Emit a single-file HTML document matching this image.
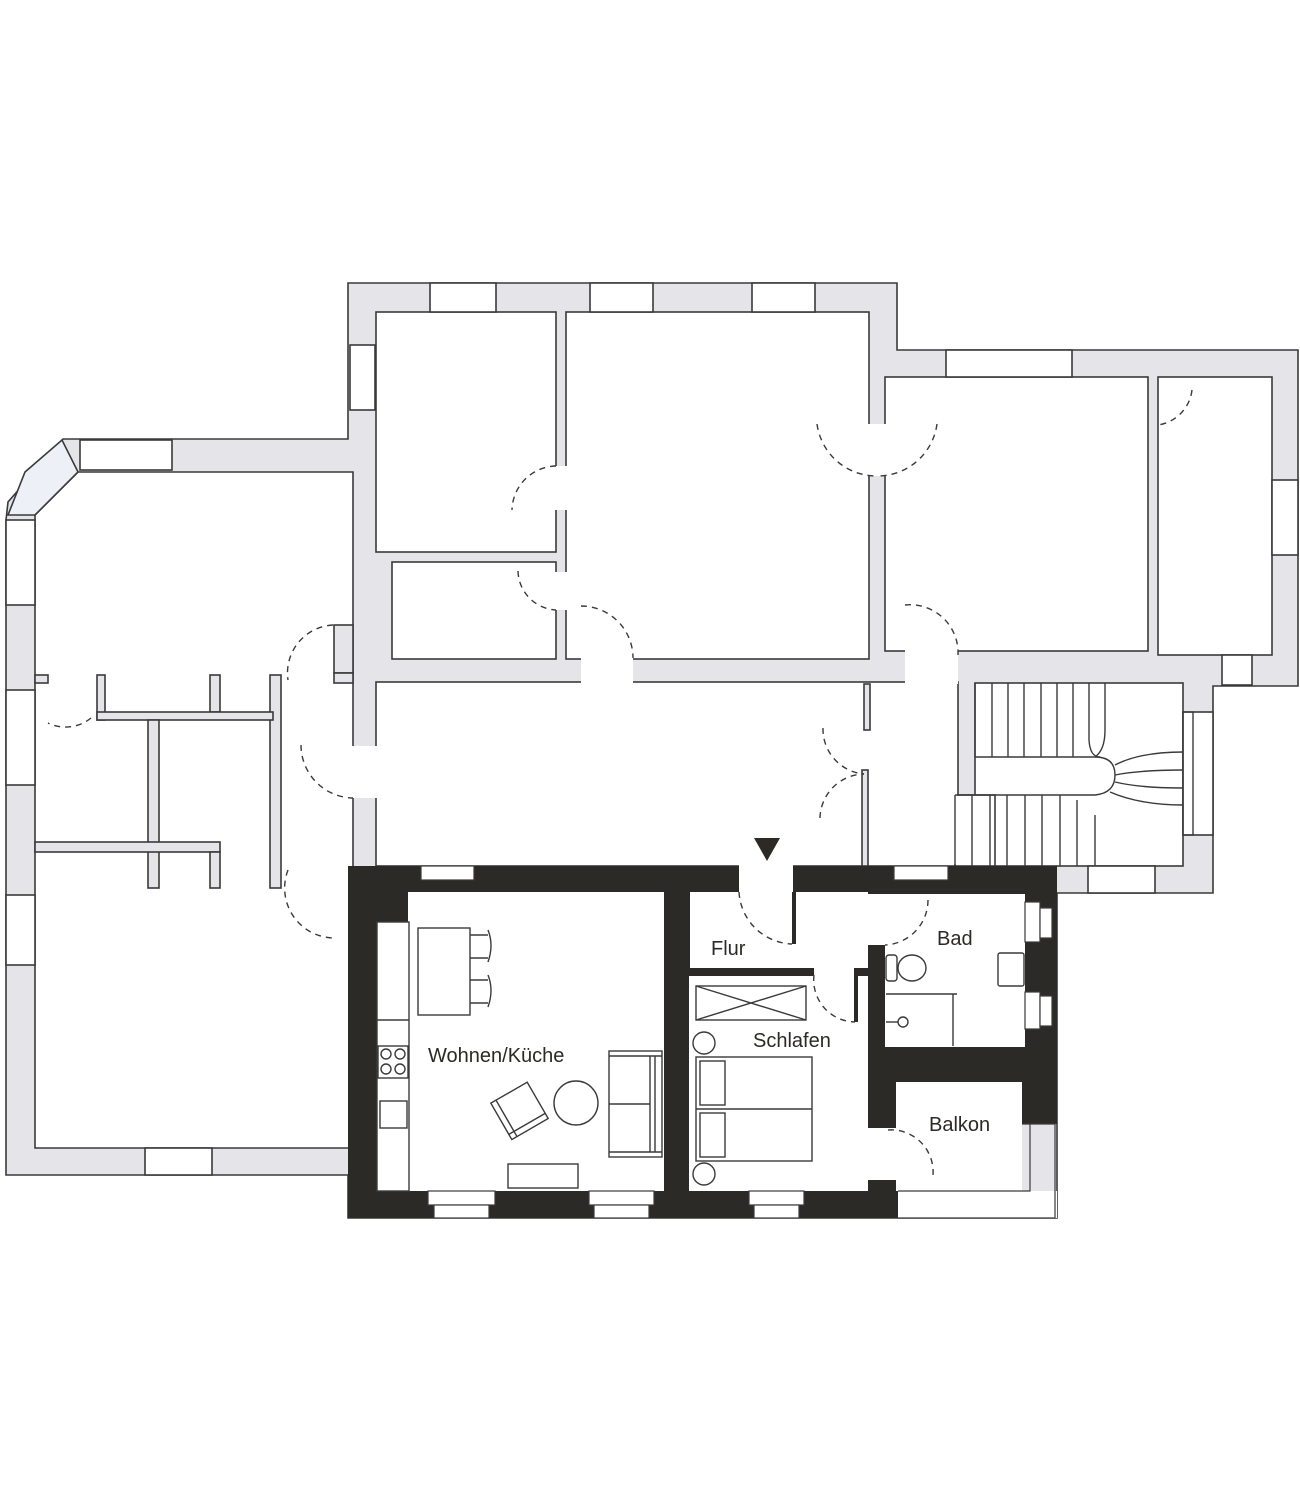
<!DOCTYPE html>
<html><head><meta charset="utf-8"><style>
html,body{margin:0;padding:0;background:#fff;}
svg{display:block;}
text{font-family:"Liberation Sans",sans-serif;font-size:20px;fill:#2b2a27;}
</style></head><body>
<svg width="1300" height="1500" viewBox="0 0 1300 1500" xmlns="http://www.w3.org/2000/svg">
<g stroke="#3a3a3a" stroke-width="1.6" fill="#e5e4e8">
<path d="M348,283 H897 V350 H1298 V686 H1213 V893 H1057 V1218 H348 V1175 H6 V520 L8,502 L63,439 H348 Z"/>
</g>
<g stroke="#3a3a3a" stroke-width="1.6" fill="#fff">
<path d="M78,472 H353 V1148 H35 V515 Z"/>
<rect x="376" y="312" width="180" height="240"/>
<rect x="392" y="562" width="164" height="97"/>
<rect x="566" y="312" width="303" height="347"/>
<rect x="885" y="377" width="263" height="274"/>
<rect x="1158" y="377" width="114" height="278"/>
<rect x="376" y="682" width="582" height="184"/>
<rect x="975" y="683" width="208" height="183"/>
<rect x="955" y="795" width="40" height="71"/>
<rect x="430" y="283" width="66" height="29"/>
<rect x="590" y="283" width="63" height="29"/>
<rect x="752" y="283" width="63" height="29"/>
<rect x="946" y="350" width="126" height="27"/>
<rect x="350" y="345" width="25" height="65"/>
<rect x="1272" y="480" width="26" height="75"/>
<rect x="1222" y="655" width="30" height="30"/>
<rect x="1183" y="712" width="30" height="123"/>
<rect x="1088" y="866" width="67" height="27"/>
<rect x="80" y="440" width="92" height="30"/>
<rect x="6" y="520" width="29" height="85"/>
<rect x="6" y="690" width="29" height="95"/>
<rect x="6" y="895" width="29" height="70"/>
<rect x="145" y="1148" width="67" height="27"/>
<path d="M25,472 L62,440 L78,472 L35,515 L8,515 Z" fill="#eef0f8"/>
</g>
<g fill="#fff" stroke="none">
<rect x="555" y="466" width="12" height="44"/>
<rect x="555" y="572" width="12" height="38"/>
<rect x="581" y="657" width="52" height="27"/>
<rect x="867" y="424" width="20" height="52"/>
<rect x="905" y="650" width="53" height="34"/>
<rect x="331" y="626" width="21" height="48"/>
<rect x="351" y="746" width="27" height="52"/>
<rect x="282" y="672" width="70" height="475"/>
<rect x="48" y="673" width="49" height="12"/>
<rect x="869" y="684" width="88" height="180"/>
<rect x="957" y="796" width="20" height="69"/>
</g>
<line x1="352.5" y1="938" x2="352.5" y2="1148" stroke="#3a3a3a" stroke-width="1.6"/>
<g stroke="#3a3a3a" stroke-width="1.6" fill="#e5e4e8">
<rect x="97" y="675" width="8" height="45"/>
<rect x="210" y="675" width="10" height="37"/>
<rect x="270" y="675" width="11" height="213"/>
<rect x="97" y="712" width="176" height="8"/>
<rect x="148" y="720" width="11" height="168"/>
<rect x="35" y="842" width="185" height="10"/>
<rect x="210" y="852" width="10" height="36"/>
<rect x="35" y="675" width="13" height="8"/>
<rect x="334" y="625" width="19" height="48"/>
<rect x="334" y="673" width="19" height="10"/>
<rect x="864" y="684" width="6" height="46"/>
<rect x="862" y="770" width="6" height="96"/>
</g>
<g fill="none" stroke="#3a3a3a" stroke-width="1.4" stroke-dasharray="6,5">
<path d="M556,466 A45,45 0 0 0 512,510"/>
<path d="M518,571 A40,40 0 0 0 556,610"/>
<path d="M581,606 A52,52 0 0 1 633,658"/>
<path d="M817,424 A60,60 0 0 0 877,476"/>
<path d="M937,424 A60,60 0 0 1 877,476"/>
<path d="M1192,390 A40,40 0 0 1 1158,425"/>
<path d="M905,605 A48,48 0 0 1 958,655"/>
<path d="M333,625 A48,48 0 0 0 288,680"/>
<path d="M91,718 A40,40 0 0 1 48,723"/>
<path d="M301,745 A53,53 0 0 0 353,798"/>
<path d="M288,870 A50,50 0 0 0 333,938"/>
<path d="M823,728 A45,45 0 0 0 864,774"/>
<path d="M820,818 A45,45 0 0 1 864,774"/>
</g>
<g stroke="#3a3a3a" stroke-width="1.4" fill="none">
<path d="M975,683 V757 M992,683 V757 M1008,683 V757 M1024,683 V757 M1041,683 V757 M1057,683 V757 M1073,683 V757 M1089,683 V740 Q1090,757 1100,757 M1105,683 V730 Q1105,750 1095,757"/>
<path d="M975,757 H1095 Q1115,757 1115,775 Q1115,793 1095,795 H955"/>
<path d="M955,795 V866 M972,795 V866 M990,795 V866 M1007,795 V866 M1025,795 V866 M1042,795 V866 M1060,795 V866 M1077,800 V866 M1095,815 V866"/>
<path d="M1115,765 Q1140,752 1183,752 M1115,775 Q1140,770 1183,770 M1115,782 Q1140,788 1183,788 M1110,792 Q1140,805 1183,805"/>
<rect x="1183" y="712" width="10" height="123"/>
</g>
<path fill="#2b2a27" d="M348,866 H1057 V1124 H1022 V1191 H898 V1218 H348 Z"/>
<g fill="#fff" stroke="none">
<rect x="739" y="850" width="54" height="45"/>
<rect x="408" y="892" width="256" height="299"/>
<rect x="377" y="922" width="31" height="269"/>
<rect x="690" y="892" width="178" height="76"/>
<rect x="689" y="976" width="179" height="215"/>
<rect x="814" y="966" width="40" height="12"/>
<rect x="885" y="894" width="140" height="153"/>
<rect x="866" y="894" width="22" height="51"/>
<rect x="896" y="1082" width="126" height="109"/>
<rect x="866" y="1128" width="32" height="52"/>
<rect x="898" y="1191" width="159" height="27"/>
</g>
<rect x="854" y="968" width="4" height="54" fill="#2b2a27"/>
<g fill="#fff" stroke="#3a3a3a" stroke-width="1.2">
<rect x="421" y="866" width="53" height="14"/>
<rect x="894" y="866" width="54" height="14"/>
<rect x="428" y="1191" width="67" height="14"/>
<rect x="434" y="1205" width="55" height="13"/>
<rect x="589" y="1191" width="65" height="14"/>
<rect x="594" y="1205" width="55" height="13"/>
<rect x="749" y="1191" width="55" height="14"/>
<rect x="754" y="1205" width="45" height="13"/>
<rect x="1025" y="902" width="15" height="40"/>
<rect x="1040" y="908" width="12" height="30"/>
<rect x="1025" y="992" width="15" height="37"/>
<rect x="1040" y="996" width="12" height="30"/>
<path d="M1022,1124 H1055 V1218 H898" fill="none"/>
<path d="M1030,1124 V1191 H898" fill="none"/>
</g>
<path d="M754,838 H780 L767,861 Z" fill="#2b2a27"/>
<rect x="792" y="892" width="4" height="52" fill="#2b2a27"/>
<g fill="none" stroke="#3a3a3a" stroke-width="1.4" stroke-dasharray="6,5">
<path d="M739,892 A55,55 0 0 0 792,944"/>
<path d="M928,900 A45,45 0 0 1 885,945"/>
<path d="M814,975 A42,42 0 0 0 855,1022"/>
<path d="M888,1130 A42,42 0 0 1 933,1175"/>
</g>
<g fill="none" stroke="#3a3a3a" stroke-width="1.4">
<rect x="377" y="922" width="32" height="269"/>
<line x1="377" y1="1020" x2="409" y2="1020"/>
<rect x="378" y="1046" width="30" height="32"/>
<circle cx="386" cy="1054" r="5"/><circle cx="400" cy="1054" r="5"/>
<circle cx="386" cy="1069" r="5"/><circle cx="400" cy="1069" r="5"/>
<rect x="380" y="1101" width="27" height="27"/>
<rect x="418" y="928" width="52" height="87"/>
<path d="M470,935 H488 M470,958 H488 M488,930 Q494,945 488,962"/>
<path d="M470,980 H488 M470,1003 H488 M488,975 Q494,990 488,1007"/>
<g transform="rotate(-30 519 1110)"><rect x="498" y="1090" width="42" height="42"/><path d="M504,1090 V1132 M498,1126 H540"/></g>
<circle cx="576" cy="1103" r="22"/>
<rect x="609" y="1051" width="53" height="106"/>
<path d="M609,1056 H662 M609,1152 H662 M650,1056 V1152 M655,1056 V1152 M609,1104 H650"/>
<rect x="508" y="1164" width="70" height="24"/>
<rect x="696" y="986" width="110" height="34"/>
<path d="M696,986 L806,1020 M806,986 L696,1020"/>
<circle cx="704" cy="1043" r="11"/>
<circle cx="704" cy="1174" r="11"/>
<rect x="696" y="1057" width="116" height="104"/>
<line x1="696" y1="1109" x2="812" y2="1109"/>
<rect x="700" y="1061" width="25" height="44"/>
<rect x="700" y="1113" width="25" height="44"/>
<rect x="886" y="955" width="11" height="26" rx="3"/>
<ellipse cx="912" cy="968" rx="14" ry="13"/>
<rect x="998" y="953" width="26" height="33" rx="2"/>
<path d="M886,994 H957 M953,994 V1046"/>
<circle cx="903" cy="1022" r="5"/>
<path d="M886,1022 H898"/>
</g>
<text x="711" y="955">Flur</text>
<text x="937" y="945">Bad</text>
<text x="753" y="1047">Schlafen</text>
<text x="428" y="1062">Wohnen/Küche</text>
<text x="929" y="1131">Balkon</text>
</svg>
</body></html>
